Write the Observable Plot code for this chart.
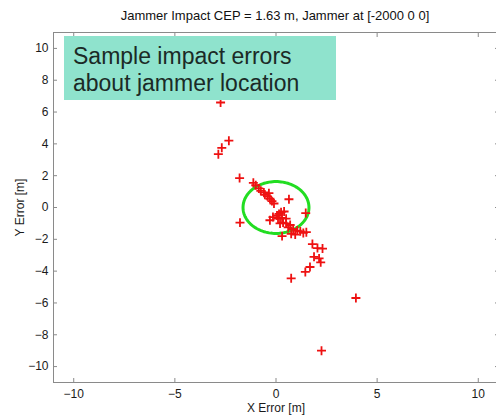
<!DOCTYPE html>
<html>
<head>
<meta charset="utf-8">
<script src="https://cdn.jsdelivr.net/npm/d3@7"></script>
<script src="https://cdn.jsdelivr.net/npm/@observablehq/plot@0.6"></script>
<style>
  body { margin: 0; background: #fff; font-family: "Liberation Sans", Arial, sans-serif; }
  #wrap { position: relative; width: 496px; height: 415px; overflow: hidden; }
  #title { position: absolute; left: 53px; width: 444px; top: 0; height: 30px; line-height: 32px; text-align: center; font-size: 13px; color: #111; }
  #chart { position: absolute; left: 0; top: 30px; }
  #note { position: absolute; left: 64px; top: 36px; width: 272px; height: 64px; background: #8fe3cd; color: #1b2a26; font-size: 23px; line-height: 27px; padding: 7px 0 0 9px; box-sizing: border-box; }
</style>
</head>
<body>
<div id="wrap">
  <div id="title">Jammer Impact CEP = 1.63 m, Jammer at [-2000 0 0]</div>
  <div id="chart"></div>
  <div id="note">Sample impact errors<br>about jammer location</div>
</div>
<script>
const titleText = "Jammer Impact CEP = 1.63 m, Jammer at [-2000 0 0]";
const cep = 1.63;
const xErr = [-2.74, -2.33, -2.68, -2.85, -1.80, -1.12, -1.00, -0.85, -0.75, -0.60, -0.55, -0.42, -0.30, -0.35, -0.20, -0.10, -1.78, 0.64,
  -0.15, -0.30, 0.05, 0.15, 0.25, 0.40, 0.10, 0.30, 0.50, 0.35, 0.50, 0.70, 0.60, 0.20, 0.85, 1.05, 1.20, 1.35, 1.50, 0.95, 0.30, 0.75, 1.47,
  1.80, 2.05, 2.30, 1.88, 2.13, 2.21, 1.68, 1.45, 0.75, 3.95, 2.25];
const yErr = [6.60, 4.20, 3.75, 3.35, 1.85, 1.55, 1.40, 1.20, 1.05, 0.95, 0.80, 0.70, 0.55, 0.90, 0.40, 0.25, -0.95, 0.52,
  -0.60, -0.80, -0.50, -0.40, -0.30, -0.25, -0.70, -0.65, -0.70, -0.95, -1.00, -1.10, -1.25, -1.00, -1.35, -1.45, -1.50, -1.60, -1.55, -1.70, -1.80, -1.65, -0.35,
  -2.30, -2.55, -2.58, -3.10, -3.20, -3.45, -3.74, -4.05, -4.45, -5.69, -9.00];
const xTicks = [-10, -5, 0, 5, 10];
const yTicks = [-10, -8, -6, -4, -2, 0, 2, 4, 6, 8, 10];

const points = xErr.map((x, i) => ({x, y: yErr[i]}));
const circle = d3.range(0, 361, 3).map(a => ({x: cep * Math.cos(a * Math.PI / 180), y: cep * Math.sin(a * Math.PI / 180)}));

const axisColor = "#8a8a8a";
const chart = Plot.plot({
  width: 496,
  height: 385,
  marginLeft: 53,
  marginRight: -2,
  marginTop: 2,
  marginBottom: 33,
  style: {fontFamily: "Liberation Sans, Arial, sans-serif", fontSize: "12px", color: "#1a1a1a", background: "transparent"},
  x: {domain: [-11, 11]},
  y: {domain: [-11, 11]},
  marks: [
    Plot.frame({stroke: axisColor}),
    Plot.axisX(xTicks, {anchor: "bottom", tickSize: -4, tickPadding: 11, stroke: axisColor, label: "X Error [m]", labelArrow: "none", labelAnchor: "center", labelOffset: 29, fill: "#1a1a1a"}),
    Plot.axisX(xTicks, {anchor: "top", tickSize: -4, stroke: axisColor, tickFormat: () => "", label: null}),
    Plot.axisY(yTicks, {anchor: "left", tickSize: -4, tickPadding: 9, stroke: axisColor, label: "Y Error [m]", labelArrow: "none", labelAnchor: "center", labelOffset: 38, fill: "#1a1a1a"}),
    Plot.axisY(yTicks, {anchor: "right", tickSize: -4, stroke: axisColor, tickFormat: () => "", label: null}),
    Plot.line(circle, {x: "x", y: "y", stroke: "#22dd22", strokeWidth: 3}),
    Plot.dot(points, {x: "x", y: "y", symbol: "plus", r: 3, stroke: "#ee1111", strokeWidth: 1.8})
  ]
});
document.getElementById("chart").appendChild(chart);
</script>
</body>
</html>
